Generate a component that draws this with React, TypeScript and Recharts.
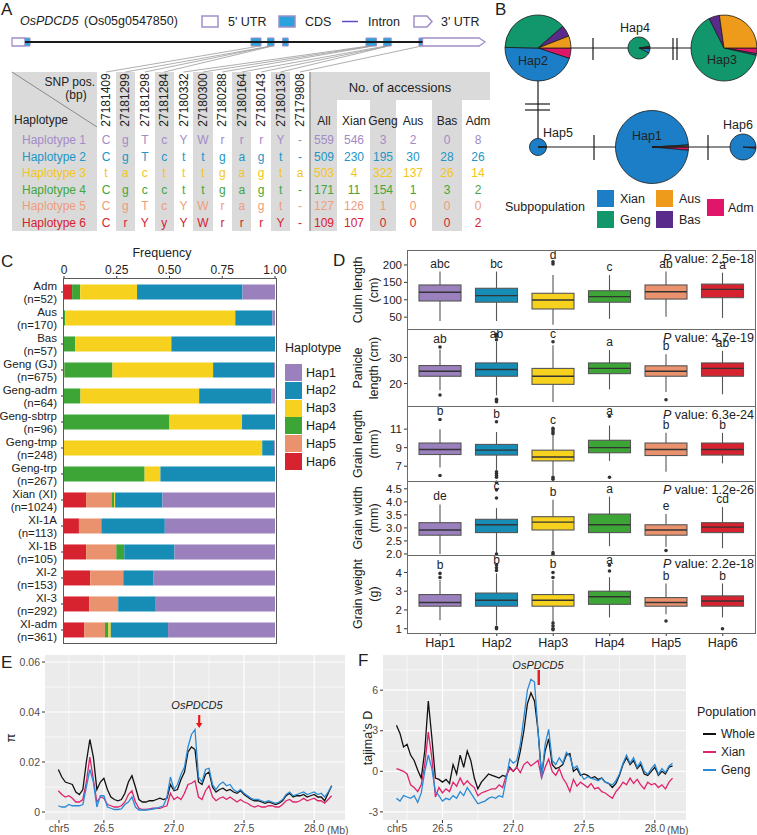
import React from 'react';
import {
  PieChart, Pie, Cell, BarChart, Bar, XAxis, YAxis, ComposedChart, LineChart, Line,
  CartesianGrid, ReferenceArea, ReferenceLine, Scatter, ScatterChart,
} from 'recharts';

const FONT = '"Liberation Sans", Arial, Helvetica, sans-serif';

// ---------- panel A data ----------
const SNP_POS = [27181409, 27181299, 27181298, 27181284, 27180332, 27180300, 27180288, 27180164, 27180143, 27180135, 27179808];
const HAP_NAMES = ['Haplotype 1', 'Haplotype 2', 'Haplotype 3', 'Haplotype 4', 'Haplotype 5', 'Haplotype 6'];
const HAP_ALLELES = [
  ['C', 'g', 'T', 'c', 'Y', 'W', 'r', 'r', 'r', 'Y', '-'],
  ['C', 'g', 'T', 'c', 't', 't', 'g', 'a', 'g', 't', '-'],
  ['t', 'a', 'c', 't', 't', 't', 'g', 'a', 'g', 't', 'a'],
  ['C', 'g', 'c', 'c', 't', 't', 'g', 'a', 'g', 't', '-'],
  ['C', 'g', 'T', 'c', 'Y', 'W', 'r', 'a', 'g', 't', '-'],
  ['C', 'r', 'Y', 'y', 'Y', 'W', 'r', 'r', 'r', 'Y', '-'],
];
const ACC_COLS = ['All', 'Xian', 'Geng', 'Aus', 'Bas', 'Adm'];
const ACC_COUNTS = [
  [559, 546, 3, 2, 0, 8],
  [509, 230, 195, 30, 28, 26],
  [503, 4, 322, 137, 26, 14],
  [171, 11, 154, 1, 3, 2],
  [127, 126, 1, 0, 0, 0],
  [109, 107, 0, 0, 0, 2],
];
const TABLE_COLORS = ['#a38bc7', '#2196c6', '#f3c619', '#42a63a', '#ef9c7a', '#d7212f'];

// gene model (genomic coordinates, minus strand drawn 5' -> 3')
const UTR5 = [27183735, 27183864];
const CDS = [
  [27183686, 27183735], [27181399, 27181498], [27181270, 27181335], [27181130, 27181185],
  [27180255, 27180360], [27180110, 27180185], [27179800, 27179835],
];
const UTR3 = [27179181, 27179800];

// ---------- panel B ----------
const SUB_ORDER = ['Adm', 'Xian', 'Geng', 'Bas', 'Aus'];
const SUB_COLORS: any = { Xian: '#1b7ec6', Geng: '#12966c', Aus: '#ee9b1c', Bas: '#5b2b8b', Adm: '#e0166b' };

// ---------- panel C ----------
const GROUPS = ['Adm', 'Aus', 'Bas', 'Geng (GJ)', 'Geng-adm', 'Geng-sbtrp', 'Geng-tmp', 'Geng-trp', 'Xian (XI)', 'XI-1A', 'XI-1B', 'XI-2', 'XI-3', 'XI-adm'];
const GROUP_N = [52, 170, 57, 675, 64, 96, 248, 267, 1024, 113, 105, 153, 292, 361];
const C_HAP1 = [8, 2, 0, 3, 1, 0, 1, 0, 546, 59, 50, 88, 165, 183];
const C_HAP2 = [26, 30, 28, 195, 22, 15, 14, 145, 230, 34, 25, 22, 52, 98];
const C_HAP3 = [14, 137, 26, 322, 36, 33, 233, 20, 4, 0, 0, 0, 0, 4];
const C_HAP4 = [2, 1, 3, 154, 5, 48, 0, 102, 11, 0, 4, 0, 0, 6];
const C_HAP5 = [0, 0, 0, 1, 0, 0, 0, 0, 126, 12, 15, 24, 40, 35];
const C_HAP6 = [2, 0, 0, 0, 0, 0, 0, 0, 107, 8, 11, 19, 35, 35];
const HAP_LABELS = ['Hap1', 'Hap2', 'Hap3', 'Hap4', 'Hap5', 'Hap6'];
const HAP_FILL = ['#9b80be', '#178db6', '#f6d21e', '#3ca536', '#ea926d', '#d6232f'];

// ---------- panel D : [min, q1, median, q3, max] ----------
const CULM_BOX = [[39, 96.5, 121.5, 142.5, 181], [39, 93, 112, 133, 181], [28, 73.5, 99.4, 118.6, 171], [45, 93, 109, 126, 171], [51, 102, 123, 142.5, 181], [48, 106, 130, 145, 178]];
const CULM_OUT = [[], [], [203, 209], [], [], []];
const CULM_LET = ['abc', 'bc', 'd', 'c', 'ab', 'a'];
const PANICLE_BOX = [[17.4, 22.8, 24.7, 26.9, 33], [15.5, 22.8, 25.4, 27.9, 36], [12.9, 19.7, 22.8, 25.8, 34.7], [17.8, 23.8, 25.8, 27.9, 32.8], [16.8, 22.8, 24.7, 26.8, 31.2], [15.9, 22.8, 25.8, 27.9, 32.5]];
const PANICLE_OUT = [[34, 15.6], [38.9, 38.2, 36.8, 14, 13.4, 13], [36], [], [13.8], []];
const PANICLE_LET = ['ab', 'ab', 'c', 'a', 'b', 'ab'];
const GLEN_BOX = [[6.85, 8.26, 8.8, 9.5, 11.0], [6.6, 8.2, 8.73, 9.35, 10.7], [6.0, 7.57, 8.0, 8.73, 10.35], [7.57, 8.45, 9.0, 9.8, 11.4], [6.4, 8.15, 8.8, 9.5, 10.6], [7.3, 8.2, 8.8, 9.5, 10.6]];
const GLEN_OUT = [[12.05, 6.0], [11.8, 6.4, 6.2, 6.0, 5.8], [11.1, 10.9, 10.7, 10.5, 5.8, 5.6], [12.4, 5.8], [], []];
const GLEN_LET = ['b', 'b', 'c', 'a', 'b', 'b'];
const GWID_BOX = [[2.0, 2.72, 2.92, 3.2, 3.9], [2.03, 2.82, 3.12, 3.33, 3.76], [2.13, 2.92, 3.22, 3.43, 4.08], [2.3, 2.82, 3.12, 3.53, 4.2], [2.28, 2.72, 2.92, 3.12, 3.53], [2.22, 2.82, 3.03, 3.2, 3.8]];
const GWID_OUT = [[], [4.75, 4.46, 4.15, 2.0], [2.05, 1.98], [], [2.13], []];
const GWID_LET = ['de', 'c', 'b', 'a', 'e', 'cd'];
const GWT_BOX = [[1.45, 2.2, 2.4, 2.82, 3.6], [1.18, 2.2, 2.52, 2.9, 3.95], [1.36, 2.2, 2.52, 2.82, 3.6], [1.6, 2.3, 2.7, 3.0, 3.75], [1.77, 2.2, 2.4, 2.66, 3.41], [1.6, 2.2, 2.48, 2.75, 3.41]];
const GWT_OUT = [[3.95, 3.73], [4.4, 4.25, 4.1, 1.07, 1.0], [4.0, 3.73, 1.3, 1.15, 1.0, 0.95], [4.39, 4.08], [1.41], [1.0]];
const GWT_LET = ['b', 'b', 'b', 'a', 'b', 'b'];

// ---------- panels E / F ----------
const POS_MB = [26.175, 26.2, 26.225, 26.25, 26.275, 26.3, 26.325, 26.35, 26.375, 26.4, 26.425, 26.45, 26.475, 26.5, 26.525, 26.55, 26.575, 26.6, 26.625, 26.65, 26.675, 26.7, 26.725, 26.75, 26.775, 26.8, 26.825, 26.85, 26.875, 26.9, 26.925, 26.95, 26.975, 27.0, 27.025, 27.05, 27.075, 27.1, 27.125, 27.15, 27.175, 27.2, 27.225, 27.25, 27.275, 27.3, 27.325, 27.35, 27.375, 27.4, 27.425, 27.45, 27.475, 27.5, 27.525, 27.55, 27.575, 27.6, 27.625, 27.65, 27.675, 27.7, 27.725, 27.75, 27.775, 27.8, 27.825, 27.85, 27.875, 27.9, 27.925, 27.95, 27.975, 28.0, 28.025, 28.05, 28.075, 28.1, 28.125];
const PI_WHOLE = [.017, .014, .012, .0115, .011, .008, .007, .009, .02, .029, .022, .009, .012, .0135, .009, .006, .005, .0045, .005, .0075, .012, .0145, .01, .005, .004, .004, .0045, .0045, .005, .0055, .005, .0055, .011, .0085, .009, .013, .016, .024, .026, .025, .012, .011, .015, .016, .01, .008, .009, .0095, .0085, .009, .008, .0075, .0085, .007, .006, .005, .0045, .0045, .004, .0035, .004, .0035, .003, .0035, .0045, .0065, .0075, .006, .0065, .0065, .007, .006, .0065, .007, .006, .006, .0045, .0075, .0105];
const PI_XIAN = [.0085, .007, .006, .0065, .0055, .004, .004, .005, .012, .022, .013, .004, .006, .0055, .003, .0025, .002, .002, .0025, .004, .007, .0085, .004, .0015, .001, .001, .0012, .0015, .0015, .0015, .002, .0025, .0075, .005, .006, .005, .0075, .011, .0115, .0125, .006, .005, .0085, .0105, .006, .0045, .0055, .006, .005, .006, .005, .004, .005, .004, .0035, .0025, .002, .0025, .002, .002, .0025, .0025, .002, .002, .003, .0045, .005, .004, .004, .0045, .0055, .0045, .005, .0055, .0045, .0045, .0035, .005, .0065];
const PI_GENG = [.0025, .002, .002, .003, .0025, .0025, .0025, .003, .01, .017, .012, .002, .0065, .0065, .002, .0015, .001, .001, .0012, .003, .004, .006, .002, .0008, .0008, .0008, .001, .0012, .0015, .002, .0025, .006, .014, .009, .011, .015, .018, .026, .031, .033, .014, .012, .017, .0175, .011, .009, .011, .012, .0105, .011, .009, .008, .009, .0075, .0065, .0055, .005, .005, .0045, .004, .0045, .004, .0035, .004, .005, .007, .008, .0065, .007, .0075, .008, .007, .0075, .008, .007, .0075, .006, .008, .0105];
const TD_WHOLE = [3.4, 2.8, 1.8, 2.0, 1.2, 0.8, 0.1, -0.5, 1.5, 5.2, 2.5, -0.5, -0.6, -0.8, -0.6, -0.9, 0.5, -0.2, 1.2, 0.3, 1.5, 0.8, -0.5, -1.3, -0.8, -0.5, -0.2, -0.3, -0.4, -0.5, -0.3, -0.4, 0.3, 0.0, 0.3, 1.5, 3.0, 5.0, 5.8, 5.2, 3.0, -0.3, 1.5, 2.4, 0.5, 0.2, 0.3, 0.5, 1.2, 1.3, 0.0, 0.2, -0.3, -0.2, -0.3, -0.5, -0.4, -0.6, -0.5, -0.8, -0.9, -1.2, -0.9, -0.3, 0.5, 1.0, 0.5, 0.8, 0.2, 0.5, -0.2, -0.3, 0.0, 0.3, -0.3, 0.0, -0.2, 0.3, 0.4];
const TD_XIAN = [0.2, 0.1, 0.0, -0.2, -1.0, -1.2, -1.5, -1.0, 0.5, 2.9, 1.0, -1.9, -1.2, -1.6, -1.3, -1.5, -0.8, -1.1, -0.5, -1.0, -0.7, -1.0, -1.2, -1.8, -1.6, -1.5, -1.4, -1.3, -1.3, -1.0, -1.2, -0.3, 0.2, 0.0, 0.3, -0.1, 0.5, 0.7, 0.4, 0.6, 0.8, -0.5, 0.3, 0.9, 0.0, -0.3, 0.2, -0.5, -0.9, -1.5, -0.6, -1.1, -0.8, -1.0, -1.2, -0.9, -1.3, -1.2, -1.5, -1.6, -1.8, -2.0, -1.5, -1.2, -0.8, -1.0, -0.5, -0.9, -0.6, -1.0, -1.3, -0.8, -1.0, -0.9, -1.2, -1.0, -1.3, -0.8, -0.5];
const TD_GENG = [-2.0, -2.2, -1.8, -1.9, -2.0, -1.8, -2.3, -1.6, 0.0, 1.2, 0.2, -1.5, -1.8, -2.2, -2.0, -2.1, -1.8, -2.0, -1.5, -1.8, -1.2, -1.6, -2.0, -2.4, -2.3, -2.2, -2.0, -1.9, -2.0, -1.8, -1.9, -0.6, 0.9, 0.6, 0.8, 2.0, 4.0, 6.0, 6.8, 6.6, 3.0, -0.5, 2.0, 3.1, 0.8, 0.5, 1.0, 0.6, 1.4, 1.1, 0.2, 0.4, -0.2, -0.6, -0.4, -0.5, -0.6, -0.7, -0.5, -0.8, -0.9, -1.0, -0.7, -0.2, 0.6, 1.2, 0.6, 1.0, 0.3, 0.7, 0.0, -0.2, 0.2, 0.5, -0.2, 0.2, -0.1, 0.4, 0.6];
const POPS = ['Whole', 'Xian', 'Geng'];
const POP_COLORS = ['#111111', '#e0226c', '#2a8ad6'];
const GENE_MB = 27.18;

// ---------- helpers ----------
function Txt({ x, y, children, size = 12, align = 'left', color = '#222', italic = false, rotate = false }: any) {
  const tx = align === 'left' ? '0' : align === 'center' ? '-50%' : '-100%';
  return (
    <div style={{
      position: 'absolute', left: x, top: y, fontSize: size, color, lineHeight: 1, whiteSpace: 'nowrap',
      fontStyle: italic ? 'italic' : 'normal',
      transform: rotate ? 'translate(-50%,-50%) rotate(-90deg)' : `translate(${tx},-50%)`,
    }}>{children}</div>
  );
}
const Box = ({ x, y, w, h, bg, border }: any) => (
  <div style={{ position: 'absolute', left: x, top: y, width: w, height: h, background: bg || 'transparent', border, boxSizing: 'border-box' }} />
);
const Letter = ({ x, y, c }: any) => <Txt x={x} y={y} size={17}>{c}</Txt>;

// ---------- Panel A ----------
const SNP_COL_X = SNP_POS.map((_, i) => 106 + i * 19.4);
const ACC_X = [324, 354, 383, 413, 447, 478];
const ROW_Y = HAP_NAMES.map((_, i) => 140 + i * 16.5);
const GRAY = '#dadada';
const UTR_STROKE = '#a18dc9';
const CDS_FILL = '#2aa3dd';

const Utr3Shape = (p: any) => {
  const x = Math.min(p.x, p.x + p.width), w = Math.abs(p.width);
  const y = Math.min(p.y, p.y + p.height), h = Math.abs(p.height);
  return <path d={`M${x},${y} L${x + w - 6},${y} L${x + w},${y + h / 2} L${x + w - 6},${y + h} L${x},${y + h} Z`} fill="#fff" stroke={UTR_STROKE} strokeWidth={1.3} />;
};
const Connector = (p: any) => (
  <line x1={p.cx} y1={p.cy} x2={SNP_COL_X[p.payload.col]} y2={p.cy + 26} stroke="#9b9b9b" strokeWidth={0.8} />
);

function PanelA() {
  const snpData = SNP_POS.map((p, i) => ({ pos: p, y: 16, col: i }));
  return (
    <>
      <Letter x={1} y={9} c="A" />
      <Txt x={20} y={21} size={12.5} italic>OsPDCD5</Txt>
      <Txt x={84} y={21} size={12.5}>(Os05g0547850)</Txt>
      <svg style={{ position: 'absolute', left: 0, top: 0 }} width={500} height={30}>
        <rect x={202} y={16} width={16} height={11} fill="#fff" stroke={UTR_STROKE} strokeWidth={1.5} />
        <rect x={279} y={16} width={16} height={11} fill={CDS_FILL} stroke={UTR_STROKE} strokeWidth={1.5} />
        <line x1={342} x2={358} y1={21.5} y2={21.5} stroke="#5a4fc4" strokeWidth={1.5} />
        <path d="M414,16 L427,16 L432,21.5 L427,27 L414,27 Z" fill="#fff" stroke={UTR_STROKE} strokeWidth={1.5} />
      </svg>
      <Txt x={228} y={21.5} size={12.5}>5' UTR</Txt>
      <Txt x={305} y={21.5} size={12.5}>CDS</Txt>
      <Txt x={368} y={21.5} size={12.5}>Intron</Txt>
      <Txt x={441} y={21.5} size={12.5}>3' UTR</Txt>

      {/* table backgrounds */}
      <Box x={12} y={72} w={85} h={159} bg={GRAY} />
      {SNP_COL_X.map((cx, i) => (i % 2 === 1 ? <Box key={i} x={cx - 9.7} y={72} w={19.4} h={159} bg={GRAY} /> : null))}
      <Box x={310} y={72} w={180} h={28} bg={GRAY} />
      <Box x={310} y={100} w={27} h={131} bg={GRAY} />
      <Box x={370} y={100} w={26} h={131} bg={GRAY} />
      <Box x={432} y={100} w={30} h={131} bg={GRAY} />
      <svg style={{ position: 'absolute', left: 0, top: 0 }} width={500} height={235}>
        <line x1={12} y1={72} x2={97} y2={127} stroke="#8a8a8a" strokeWidth={1} />
        <line x1={310} y1={72} x2={310} y2={231} stroke="#9a9a9a" strokeWidth={1.5} />
      </svg>

      {/* gene model */}
      <div style={{ position: 'absolute', left: 0, top: 30 }}>
        <ScatterChart width={500} height={45} margin={{ top: 0, right: 0, bottom: 0, left: 0 }}>
          <XAxis type="number" dataKey="pos" domain={[27179033, 27183983]} reversed hide allowDataOverflow />
          <YAxis type="number" dataKey="y" domain={[0, 45]} reversed hide allowDataOverflow />
          <ReferenceLine segment={[{ x: UTR5[0], y: 12 }, { x: UTR3[1], y: 12 }]} stroke="#1a1a1a" strokeWidth={2} />
          <ReferenceArea x1={UTR5[0]} x2={UTR5[1]} y1={8} y2={16} fill="#fff" fillOpacity={1} stroke={UTR_STROKE} strokeWidth={1.3} />
          {CDS.map((c, i) => (
            <ReferenceArea key={i} x1={c[0]} x2={c[1]} y1={8} y2={16} fill={CDS_FILL} fillOpacity={1} stroke={UTR_STROKE} strokeWidth={1} />
          ))}
          <ReferenceArea x1={UTR3[0]} x2={UTR3[1]} y1={8} y2={16} shape={Utr3Shape} />
          <Scatter data={snpData} shape={Connector} isAnimationActive={false} />
        </ScatterChart>
      </div>

      {/* table text */}
      <Txt x={95} y={82} size={12} align="right">SNP pos.</Txt>
      <Txt x={76} y={95} size={12} align="center">(bp)</Txt>
      <Txt x={14} y={120} size={12}>Haplotype</Txt>
      {SNP_POS.map((p, i) => (
        <Txt key={p} x={SNP_COL_X[i]} y={100} size={12} rotate>{p}</Txt>
      ))}
      <Txt x={400} y={87} size={13} align="center">No. of accessions</Txt>
      {ACC_COLS.map((c, i) => <Txt key={c} x={ACC_X[i]} y={121} size={12} align="center">{c}</Txt>)}
      {HAP_NAMES.map((n, r) => (
        <React.Fragment key={n}>
          <Txt x={54} y={ROW_Y[r]} size={12} align="center" color={TABLE_COLORS[r]}>{n}</Txt>
          {HAP_ALLELES[r].map((a, i) => (
            <Txt key={i} x={SNP_COL_X[i]} y={ROW_Y[r]} size={12} align="center" color={TABLE_COLORS[r]}>{a}</Txt>
          ))}
          {ACC_COUNTS[r].map((v, i) => (
            <Txt key={'c' + i} x={ACC_X[i]} y={ROW_Y[r]} size={12} align="center" color={TABLE_COLORS[r]}>{v}</Txt>
          ))}
        </React.Fragment>
      ))}
    </>
  );
}

// ---------- Panel B ----------
const PIE_LAYOUT = [
  { cx: 162, cy: 147, r: 36.5, lx: 157, ly: 136 },
  { cx: 48, cy: 48, r: 33, lx: 43, ly: 61 },
  { cx: 234, cy: 48, r: 33, lx: 232, ly: 60 },
  { cx: 149, cy: 48, r: 11, lx: 145, ly: 28 },
  { cx: 48, cy: 147, r: 8.5, lx: 68, ly: 133 },
  { cx: 253, cy: 147, r: 13, lx: 248, ly: 125 },
];

function PanelB() {
  const L = 490;
  return (
    <>
      <Letter x={495} y={9} c="B" />
      <svg style={{ position: 'absolute', left: L, top: 0 }} width={267} height={245}>
        <g stroke="#1a1a1a" strokeWidth={1.2}>
          <line x1={48} y1={48} x2={234} y2={48} />
          <line x1={48} y1={48} x2={48} y2={147} />
          <line x1={48} y1={147} x2={253} y2={147} />
          <line x1={103} y1={38} x2={103} y2={60} />
          <line x1={183} y1={38} x2={183} y2={60} />
          <line x1={187} y1={38} x2={187} y2={60} />
          <line x1={35} y1={104} x2={60} y2={104} />
          <line x1={35} y1={110} x2={60} y2={110} />
          <line x1={104} y1={135} x2={104} y2={160} />
          <line x1={218} y1={135} x2={218} y2={160} />
        </g>
      </svg>
      <div style={{ position: 'absolute', left: L, top: 0 }}>
        <PieChart width={267} height={245} margin={{ top: 0, right: 0, bottom: 0, left: 0 }}>
          {PIE_LAYOUT.map((p, h) => (
            <Pie
              key={h}
              data={SUB_ORDER.map((s) => ({ name: s, value: ACC_COUNTS[h][ACC_COLS.indexOf(s)] }))}
              dataKey="value"
              nameKey="name"
              cx={p.cx}
              cy={p.cy}
              innerRadius={0}
              outerRadius={p.r}
              startAngle={0}
              endAngle={-360}
              stroke="#1a1a1a"
              strokeWidth={0.8}
              label={false}
              labelLine={false}
              isAnimationActive={false}
            >
              {SUB_ORDER.map((s) => <Cell key={s} fill={SUB_COLORS[s]} />)}
            </Pie>
          ))}
        </PieChart>
      </div>
      {PIE_LAYOUT.map((p, h) => (
        <Txt key={h} x={L + p.lx} y={p.ly} size={12.5} align="center">{HAP_LABELS[h]}</Txt>
      ))}
      <Txt x={505} y={207} size={12.5}>Subpopulation</Txt>
      <Box x={597} y={190} w={17} h={17} bg={SUB_COLORS.Xian} />
      <Box x={597} y={211} w={17} h={17} bg={SUB_COLORS.Geng} />
      <Box x={656} y={190} w={17} h={17} bg={SUB_COLORS.Aus} />
      <Box x={656} y={211} w={17} h={17} bg={SUB_COLORS.Bas} />
      <Box x={707} y={199} w={17} h={17} bg={SUB_COLORS.Adm} />
      <Txt x={620} y={199} size={12.5}>Xian</Txt>
      <Txt x={620} y={220} size={12.5}>Geng</Txt>
      <Txt x={679} y={199} size={12.5}>Aus</Txt>
      <Txt x={679} y={220} size={12.5}>Bas</Txt>
      <Txt x={728} y={208} size={12.5}>Adm</Txt>
    </>
  );
}

// ---------- Panel C ----------
const GroupTick = (p: any) => {
  const i = GROUPS.indexOf(p.payload.value);
  return (
    <g>
      <text x={p.x - 2} y={p.y - 2.5} textAnchor="end" fontSize={11.5} fill="#222">{p.payload.value}</text>
      <text x={p.x - 2} y={p.y + 11} textAnchor="end" fontSize={11.5} fill="#222">{`(n=${GROUP_N[i]})`}</text>
    </g>
  );
};

function PanelC() {
  const data = GROUPS.map((g, i) => ({
    group: g, hap1: C_HAP1[i], hap2: C_HAP2[i], hap3: C_HAP3[i], hap4: C_HAP4[i], hap5: C_HAP5[i], hap6: C_HAP6[i],
  }));
  const keys = ['hap6', 'hap5', 'hap4', 'hap3', 'hap2', 'hap1'];
  return (
    <>
      <Letter x={1} y={261} c="C" />
      <Txt x={162} y={253} size={12.5} align="center">Frequency</Txt>
      <div style={{ position: 'absolute', left: 0, top: 255 }}>
        <BarChart width={290} height={388} data={data} layout="vertical" stackOffset="expand" barCategoryGap="21%" margin={{ top: 0, right: 15, bottom: 0, left: 0 }}>
          <XAxis type="number" orientation="top" domain={[0, 1]} ticks={[0, 0.25, 0.5, 0.75, 1]} interval={0} tickFormatter={(v: number) => (v === 0 ? '0' : v.toFixed(2))} axisLine={false} tickLine={{ stroke: '#333' }} tickSize={3} height={24} tick={{ fontSize: 12, fill: '#222' }} />
          <YAxis type="category" dataKey="group" width={64} axisLine={false} tickLine={{ stroke: '#333' }} tickSize={3} tick={GroupTick} interval={0} />
          {keys.map((k) => (
            <Bar key={k} dataKey={k} stackId="a" fill={HAP_FILL[Number(k.slice(3)) - 1]} isAnimationActive={false} />
          ))}
        </BarChart>
      </div>
      <Box x={63} y={278} w={214} h={366} border="1.5px solid #5a5a5a" />
      <Txt x={285} y={348} size={12.5}>Haplotype</Txt>
      {HAP_LABELS.map((h, i) => (
        <React.Fragment key={h}>
          <Box x={285} y={364 + i * 17.8} w={17} h={17} bg={HAP_FILL[i]} />
          <Txt x={306} y={372.5 + i * 17.8} size={12.5}>{h}</Txt>
        </React.Fragment>
      ))}
    </>
  );
}

// ---------- Panel D ----------
const TRAITS = [
  { box: CULM_BOX, out: CULM_OUT, letters: CULM_LET, p: '2.5e-18', domain: [16, 243], ticks: [50, 100, 150, 200], label: ['Culm length', '(cm)'], dec: 0 },
  { box: PANICLE_BOX, out: PANICLE_OUT, letters: PANICLE_LET, p: '4.7e-19', domain: [11.4, 40.9], ticks: [20, 30], label: ['Panicle', 'length (cm)'], dec: 0 },
  { box: GLEN_BOX, out: GLEN_OUT, letters: GLEN_LET, p: '6.3e-24', domain: [5.4, 13.5], ticks: [7, 9, 11], label: ['Grain length', '(mm)'], dec: 0 },
  { box: GWID_BOX, out: GWID_OUT, letters: GWID_LET, p: '1.2e-26', domain: [1.96, 4.8], ticks: [2, 2.5, 3, 3.5, 4, 4.5], label: ['Grain width', '(mm)'], dec: 1 },
  { box: GWT_BOX, out: GWT_OUT, letters: GWT_LET, p: '2.2e-18', domain: [0.77, 4.93], ticks: [1, 2, 3, 4], label: ['Grain weight', '(g)'], dec: 0 },
];
const D_TOPS = [250, 329, 406, 481, 555];
const D_BOTS = [329, 406, 481, 555, 633];
const D_PAD = 7;

const BoxShape = (props: any) => {
  const { x, y, width, height, payload } = props;
  if (!payload) return null;
  const top = Math.min(y, y + height), bot = Math.max(y, y + height);
  const { lo, hi } = payload;
  const px = (v: number) => top + ((hi - v) / (hi - lo)) * (bot - top);
  const cx = x + width / 2;
  const letterY = Math.max(px(hi) - 4, px(payload.domTop) + 9);
  return (
    <g>
      <line x1={cx} x2={cx} y1={px(payload.mx)} y2={px(payload.mn)} stroke="#555" strokeWidth={1.1} />
      <rect x={x} y={px(payload.q3)} width={width} height={px(payload.q1) - px(payload.q3)} fill={payload.color} stroke="#555" strokeWidth={1.1} />
      <line x1={x} x2={x + width} y1={px(payload.md)} y2={px(payload.md)} stroke="#333" strokeWidth={1.4} />
      {payload.out.map((v: number, i: number) => <circle key={i} cx={cx} cy={px(v)} r={1.8} fill="#333" />)}
      <text x={cx} y={letterY} textAnchor="middle" fontSize={12} fill="#222">{payload.letter}</text>
    </g>
  );
};

function BoxPanel({ idx }: any) {
  const t = TRAITS[idx];
  const data = HAP_LABELS.map((h, i) => {
    const [mn, q1, md, q3, mx] = t.box[i];
    const all = [mn, mx, ...t.out[i]];
    return { hap: h, mn, q1, md, q3, mx, out: t.out[i], letter: t.letters[i], lo: Math.min(...all), hi: Math.max(...all), domTop: t.domain[1], color: HAP_FILL[i] };
  });
  const last = idx === TRAITS.length - 1;
  const top = D_TOPS[idx];
  const h = D_BOTS[idx] - top;
  return (
    <div style={{ position: 'absolute', left: 380, top: top - D_PAD }}>
      <ComposedChart width={377} height={h + 2 * D_PAD + (last ? 22 : 0)} data={data} margin={{ top: D_PAD, right: 1, bottom: D_PAD, left: 0 }}>
        <XAxis dataKey="hap" type="category" hide={!last} height={22} padding={{ left: 5, right: 5 }} interval={0} axisLine={false} tickLine={{ stroke: '#333' }} tickSize={3} tick={{ fontSize: 12.5, fill: '#222' }} />
        <YAxis type="number" domain={t.domain} ticks={t.ticks} interval={0} width={27} axisLine={false} tickLine={{ stroke: '#333' }} tickSize={3} tick={{ fontSize: 11.5, fill: '#222' }} tickFormatter={(v: number) => v.toFixed(t.dec)} />
        <Bar dataKey={(d: any) => [d.lo, d.hi]} barSize={42} shape={BoxShape} isAnimationActive={false} />
      </ComposedChart>
    </div>
  );
}

function PanelD() {
  return (
    <>
      <Letter x={333} y={260} c="D" />
      {TRAITS.map((t, i) => <BoxPanel key={i} idx={i} />)}
      {TRAITS.map((t, i) => {
        const mid = (D_TOPS[i] + D_BOTS[i]) / 2;
        return (
          <React.Fragment key={i}>
            <Box x={407} y={D_TOPS[i]} w={349} h={D_BOTS[i] - D_TOPS[i] + 1} border="1px solid #6a6a6a" />
            <Txt x={358} y={mid} size={12.5} rotate>{t.label[0]}</Txt>
            <Txt x={374} y={mid} size={12.5} rotate>{t.label[1]}</Txt>
            <Txt x={754} y={D_TOPS[i] + 9} size={12.5} align="right"><i>P</i> value: {t.p}</Txt>
          </React.Fragment>
        );
      })}
    </>
  );
}

// ---------- Panels E & F ----------
const ArrowShape = (p: any) => (
  <g>
    <line x1={p.x1} y1={p.y1} x2={p.x2} y2={p.y2 - 4} stroke="#e8191e" strokeWidth={2.2} />
    <polygon points={`${p.x2 - 3.2},${p.y2 - 5} ${p.x2 + 3.2},${p.y2 - 5} ${p.x2},${p.y2}`} fill="#e8191e" />
  </g>
);

function LinePanel({ left, width, yWidth, domain, ticks, minorY, fmt, series, arrow, arrowShape }: any) {
  const data = POS_MB.map((x, i) => ({ x, whole: series[0][i], xian: series[1][i], geng: series[2][i] }));
  return (
    <div style={{ position: 'absolute', left, top: 650 }}>
      <LineChart width={width} height={185} data={data} margin={{ top: 5, right: 1, bottom: 0, left: 0 }}>
        <CartesianGrid fill="#ebebeb" stroke="#fff" strokeWidth={0.6} verticalValues={[26.25, 26.75, 27.25, 27.75]} horizontalValues={minorY} />
        <CartesianGrid stroke="#fff" strokeWidth={1.2} verticalValues={[26.5, 27, 27.5, 28]} horizontalValues={ticks} />
        <XAxis type="number" dataKey="x" domain={[26.08, 28.22]} allowDataOverflow ticks={[26.18, 26.5, 27, 27.5, 28]} interval={0} tickFormatter={(v: number) => (v < 26.3 ? 'chr5' : v.toFixed(1))} axisLine={false} tickLine={{ stroke: '#333' }} tickSize={3} height={15} tick={{ fontSize: 10.5, fill: '#4d4d4d' }} />
        <YAxis type="number" domain={domain} allowDataOverflow ticks={ticks} interval={0} tickFormatter={fmt} width={yWidth} axisLine={false} tickLine={{ stroke: '#333' }} tickSize={3} tick={{ fontSize: 10.5, fill: '#4d4d4d' }} />
        <Line dataKey="whole" stroke={POP_COLORS[0]} strokeWidth={1.3} dot={false} type="linear" isAnimationActive={false} />
        <Line dataKey="xian" stroke={POP_COLORS[1]} strokeWidth={1.3} dot={false} type="linear" isAnimationActive={false} />
        <Line dataKey="geng" stroke={POP_COLORS[2]} strokeWidth={1.3} dot={false} type="linear" isAnimationActive={false} />
        <ReferenceLine segment={[{ x: GENE_MB, y: arrow[0] }, { x: GENE_MB, y: arrow[1] }]} stroke="#e8191e" strokeWidth={2.4} shape={arrowShape} />
      </LineChart>
    </div>
  );
}

function PanelEF() {
  return (
    <>
      <Letter x={1} y={662} c="E" />
      <LinePanel left={0} width={346} yWidth={45} domain={[-0.0032, 0.0628]} ticks={[0, 0.02, 0.04, 0.06]} minorY={[0.01, 0.03, 0.05]}
        fmt={(v: number) => (v === 0 ? '0' : v.toFixed(2))} series={[PI_WHOLE, PI_XIAN, PI_GENG]} arrow={[0.0388, 0.0336]} arrowShape={ArrowShape} />
      <Txt x={197} y={705} size={11} align="center" italic>OsPDCD5</Txt>
      <Txt x={10} y={738} size={13} rotate>π</Txt>
      <Txt x={327} y={830} size={10.5} color="#4d4d4d">(Mb)</Txt>

      <Letter x={358} y={660} c="F" />
      <LinePanel left={340} width={347} yWidth={43} domain={[-3.6, 8.6]} ticks={[-3, 0, 3, 6]} minorY={[-1.5, 1.5, 4.5, 7.5]}
        fmt={(v: number) => String(v)} series={[TD_WHOLE, TD_XIAN, TD_GENG]} arrow={[7.49, 6.38]} arrowShape={undefined} />
      <Txt x={538} y={665} size={11} align="center" italic>OsPDCD5</Txt>
      <Txt x={368} y={738} size={12.5} rotate>tajima's D</Txt>
      <Txt x={667} y={830} size={10.5} color="#4d4d4d">(Mb)</Txt>

      <Txt x={697} y={712} size={12.5}>Population</Txt>
      {POPS.map((p, i) => (
        <React.Fragment key={p}>
          <Box x={703} y={733 + i * 18} w={13} h={2} bg={POP_COLORS[i]} />
          <Txt x={721} y={734 + i * 18} size={12}>{p}</Txt>
        </React.Fragment>
      ))}
    </>
  );
}

export default function App() {
  return (
    <div style={{ position: 'absolute', left: 0, top: 0, width: 757, height: 835, overflow: 'hidden', background: '#fff', fontFamily: FONT, color: '#222' }}>
      <PanelA />
      <PanelB />
      <PanelC />
      <PanelD />
      <PanelEF />
    </div>
  );
}
